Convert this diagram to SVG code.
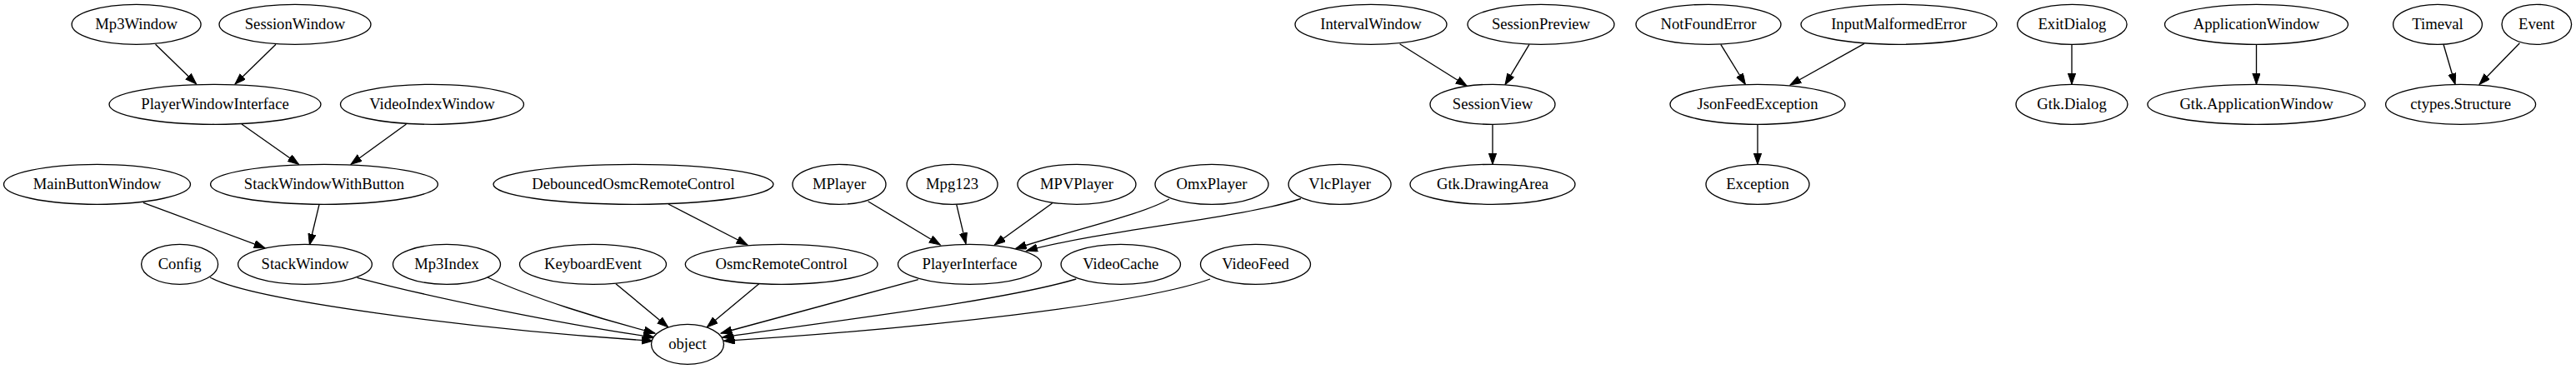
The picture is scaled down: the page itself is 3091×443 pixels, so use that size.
<svg xmlns="http://www.w3.org/2000/svg" width="3091" height="443" viewBox="0 0 3091 443">
<style>
.n ellipse{fill:#fff;stroke:#000;stroke-width:1.33}
.n text{font-family:"Liberation Serif","Times New Roman",serif;font-size:18.67px;text-anchor:middle;fill:#000}
#edges path{fill:none;stroke:#000;stroke-width:1.33;marker-end:url(#arr)}
</style>
<defs>
<marker id="arr" markerUnits="userSpaceOnUse" markerWidth="15" markerHeight="11" refX="13.3" refY="4.67" orient="auto">
<path d="M0,0 L13.3,4.67 L0,9.33 z" fill="#000" stroke="#000" stroke-width="1"/>
</marker>
</defs>
<rect width="3091" height="443" fill="#fff"/>
<g id="edges">
<path d="M186.6,53.3 L235.7,101"/>
<path d="M331,53.3 L282,101"/>
<path d="M290,149 L358.5,197.3"/>
<path d="M487.5,149 L421,197.3"/>
<path d="M171.9,243.3 L317.9,297.7"/>
<path d="M383,245.7 L371.4,294"/>
<path d="M252,333 C300,360 560,395 783.3,409.3"/>
<path d="M428.6,333.3 C520,358 680,390 785,405"/>
<path d="M585,333 C640,358 720,383 786,400"/>
<path d="M739,340.7 L801.7,392.7"/>
<path d="M910.7,340.7 L848.3,392.7"/>
<path d="M802,245 L897,294"/>
<path d="M1041.6,241.7 L1128.3,294"/>
<path d="M1147.8,245.7 L1159,292.7"/>
<path d="M1262.6,244 L1193.3,294"/>
<path d="M1403,239 C1370,258 1290,275 1218.3,298.7"/>
<path d="M1561,238.5 C1490,262 1330,275 1231.7,301"/>
<path d="M1101.8,335.7 L865,400"/>
<path d="M1291.3,335 C1200,362 1000,385 866.7,405"/>
<path d="M1452,335 C1370,365 1100,395 868.3,409.3"/>
<path d="M1679.6,52.7 L1760.2,103.3"/>
<path d="M1835,53.3 L1806,101.7"/>
<path d="M1791,149.3 L1791,197.3"/>
<path d="M2064.8,53.3 L2094.4,101.5"/>
<path d="M2237,52.3 L2148,102"/>
<path d="M2109,149.3 L2109,197.3"/>
<path d="M2486,53.3 L2486,101.3"/>
<path d="M2707.5,53.3 L2707.5,101.3"/>
<path d="M2932,53.3 L2946,101.3"/>
<path d="M3023.4,51.7 L2975,101.5"/>
</g>
<g id="Mp3Window" class="n"><ellipse cx="163.6" cy="29.3" rx="77.5" ry="24"/><text x="163.6" y="35.3">Mp3Window</text></g>
<g id="SessionWindow" class="n"><ellipse cx="354" cy="29.3" rx="91" ry="24"/><text x="354" y="35.3">SessionWindow</text></g>
<g id="IntervalWindow" class="n"><ellipse cx="1645" cy="29.3" rx="91" ry="24"/><text x="1645" y="35.3">IntervalWindow</text></g>
<g id="SessionPreview" class="n"><ellipse cx="1849" cy="29.3" rx="88" ry="24"/><text x="1849" y="35.3">SessionPreview</text></g>
<g id="NotFoundError" class="n"><ellipse cx="2050" cy="29.3" rx="87" ry="24"/><text x="2050" y="35.3">NotFoundError</text></g>
<g id="InputMalformedError" class="n"><ellipse cx="2278.5" cy="29.3" rx="117.5" ry="24"/><text x="2278.5" y="35.3">InputMalformedError</text></g>
<g id="ExitDialog" class="n"><ellipse cx="2486.4" cy="29.3" rx="65.7" ry="24"/><text x="2486.4" y="35.3">ExitDialog</text></g>
<g id="ApplicationWindow" class="n"><ellipse cx="2707.5" cy="29.3" rx="110" ry="24"/><text x="2707.5" y="35.3">ApplicationWindow</text></g>
<g id="Timeval" class="n"><ellipse cx="2925" cy="29.3" rx="53.4" ry="24"/><text x="2925" y="35.3">Timeval</text></g>
<g id="Event" class="n"><ellipse cx="3043.8" cy="29.3" rx="41.8" ry="24"/><text x="3043.8" y="35.3">Event</text></g>
<g id="PlayerWindowInterface" class="n"><ellipse cx="258" cy="125.3" rx="127" ry="24"/><text x="258" y="131.3">PlayerWindowInterface</text></g>
<g id="VideoIndexWindow" class="n"><ellipse cx="518.5" cy="125.3" rx="110" ry="24"/><text x="518.5" y="131.3">VideoIndexWindow</text></g>
<g id="SessionView" class="n"><ellipse cx="1791" cy="125.3" rx="75" ry="24"/><text x="1791" y="131.3">SessionView</text></g>
<g id="JsonFeedException" class="n"><ellipse cx="2109" cy="125.3" rx="105" ry="24"/><text x="2109" y="131.3">JsonFeedException</text></g>
<g id="GtkDialog" class="n"><ellipse cx="2486" cy="125.3" rx="67" ry="24"/><text x="2486" y="131.3">Gtk.Dialog</text></g>
<g id="GtkApplicationWindow" class="n"><ellipse cx="2707.5" cy="125.3" rx="130.6" ry="24"/><text x="2707.5" y="131.3">Gtk.ApplicationWindow</text></g>
<g id="ctypesStructure" class="n"><ellipse cx="2952.6" cy="125.3" rx="90" ry="24"/><text x="2952.6" y="131.3">ctypes.Structure</text></g>
<g id="MainButtonWindow" class="n"><ellipse cx="116.5" cy="221.3" rx="112" ry="24"/><text x="116.5" y="227.3">MainButtonWindow</text></g>
<g id="StackWindowWithButton" class="n"><ellipse cx="389" cy="221.3" rx="136.4" ry="24"/><text x="389" y="227.3">StackWindowWithButton</text></g>
<g id="DebouncedOsmcRemoteControl" class="n"><ellipse cx="760" cy="221.3" rx="168" ry="24"/><text x="760" y="227.3">DebouncedOsmcRemoteControl</text></g>
<g id="MPlayer" class="n"><ellipse cx="1007" cy="221.3" rx="56" ry="24"/><text x="1007" y="227.3">MPlayer</text></g>
<g id="Mpg123" class="n"><ellipse cx="1142.6" cy="221.3" rx="54.5" ry="24"/><text x="1142.6" y="227.3">Mpg123</text></g>
<g id="MPVPlayer" class="n"><ellipse cx="1292" cy="221.3" rx="71" ry="24"/><text x="1292" y="227.3">MPVPlayer</text></g>
<g id="OmxPlayer" class="n"><ellipse cx="1454" cy="221.3" rx="68" ry="24"/><text x="1454" y="227.3">OmxPlayer</text></g>
<g id="VlcPlayer" class="n"><ellipse cx="1607.6" cy="221.3" rx="61.5" ry="24"/><text x="1607.6" y="227.3">VlcPlayer</text></g>
<g id="GtkDrawingArea" class="n"><ellipse cx="1791" cy="221.3" rx="99" ry="24"/><text x="1791" y="227.3">Gtk.DrawingArea</text></g>
<g id="Exception" class="n"><ellipse cx="2109" cy="221.3" rx="62" ry="24"/><text x="2109" y="227.3">Exception</text></g>
<g id="Config" class="n"><ellipse cx="215.6" cy="317.3" rx="46" ry="24"/><text x="215.6" y="323.3">Config</text></g>
<g id="StackWindow" class="n"><ellipse cx="366" cy="317.3" rx="80.4" ry="24"/><text x="366" y="323.3">StackWindow</text></g>
<g id="Mp3Index" class="n"><ellipse cx="536" cy="317.3" rx="64.5" ry="24"/><text x="536" y="323.3">Mp3Index</text></g>
<g id="KeyboardEvent" class="n"><ellipse cx="711.5" cy="317.3" rx="88" ry="24"/><text x="711.5" y="323.3">KeyboardEvent</text></g>
<g id="OsmcRemoteControl" class="n"><ellipse cx="937.7" cy="317.3" rx="115.4" ry="24"/><text x="937.7" y="323.3">OsmcRemoteControl</text></g>
<g id="PlayerInterface" class="n"><ellipse cx="1163.5" cy="317.3" rx="86" ry="24"/><text x="1163.5" y="323.3">PlayerInterface</text></g>
<g id="VideoCache" class="n"><ellipse cx="1344.8" cy="317.3" rx="71.7" ry="24"/><text x="1344.8" y="323.3">VideoCache</text></g>
<g id="VideoFeed" class="n"><ellipse cx="1506.5" cy="317.3" rx="66" ry="24"/><text x="1506.5" y="323.3">VideoFeed</text></g>
<g id="object" class="n"><ellipse cx="825" cy="413.3" rx="43.5" ry="24"/><text x="825" y="419.3">object</text></g>
</svg>
